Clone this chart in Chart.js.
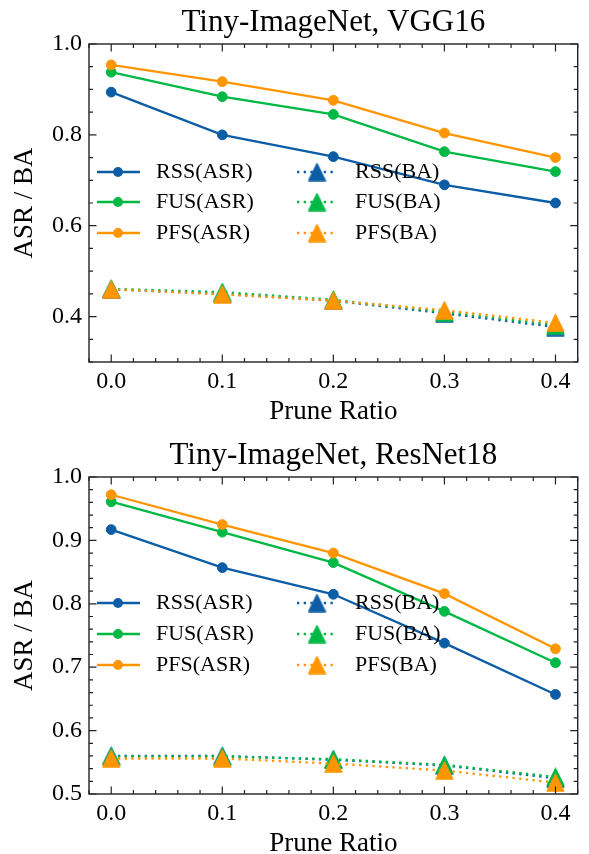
<!DOCTYPE html>
<html><head><meta charset="utf-8">
<script src="https://cdn.jsdelivr.net/npm/chart.js@4.4.1/dist/chart.umd.min.js"></script>
<style>
html,body{margin:0;padding:0;background:#fff;width:589px;height:854px;overflow:hidden}
canvas{display:block}
</style></head><body>
<canvas id="c1" width="589" height="427"></canvas>
<canvas id="c2" width="589" height="427"></canvas>
<script>
// ---------- data ----------
const pruneRatios = [0.0, 0.1, 0.2, 0.3, 0.4];
const xTickLabels = ['0.0', '0.1', '0.2', '0.3', '0.4'];
const seriesNames = ['RSS', 'FUS', 'PFS'];
const seriesColors = ['#0C5DA5', '#00B945', '#FF9500'];
const xAxisTitle = 'Prune Ratio';
const yAxisTitle = 'ASR / BA';

const vggTitle = 'Tiny-ImageNet, VGG16';
const vggYTicks = [0.4, 0.6, 0.8, 1.0];
const vggRssASR = [0.894, 0.800, 0.752, 0.690, 0.650];
const vggFusASR = [0.938, 0.884, 0.845, 0.763, 0.719];
const vggPfsASR = [0.954, 0.917, 0.876, 0.804, 0.750];
const vggRssBA  = [0.460, 0.450, 0.435, 0.407, 0.377];
const vggFusBA  = [0.461, 0.454, 0.437, 0.410, 0.381];
const vggPfsBA  = [0.460, 0.449, 0.435, 0.414, 0.386];

const resTitle = 'Tiny-ImageNet, ResNet18';
const resYTicks = [0.5, 0.6, 0.7, 0.8, 0.9, 1.0];
const resRssASR = [0.917, 0.857, 0.815, 0.738, 0.657];
const resFusASR = [0.961, 0.913, 0.865, 0.788, 0.707];
const resPfsASR = [0.972, 0.925, 0.880, 0.816, 0.729];
const resRssBA  = [0.560, 0.560, 0.554, 0.545, 0.525];
const resFusBA  = [0.559, 0.559, 0.555, 0.546, 0.527];
const resPfsBA  = [0.556, 0.556, 0.548, 0.537, 0.518];

// ---------- helpers ----------
const FONT = '"Liberation Serif", "Times New Roman", serif';

function makeTriangle(color) {
  const c = document.createElement('canvas');
  c.width = 19; c.height = 19;
  const g = c.getContext('2d');
  g.fillStyle = color; g.strokeStyle = color; g.lineWidth = 1;
  g.beginPath();
  g.moveTo(9.5, 0.7); g.lineTo(0.8, 18.2); g.lineTo(18.2, 18.2); g.closePath();
  g.fill(); g.stroke();
  return c;
}
const triangles = seriesColors.map(makeTriangle);

function buildDatasets(asr, ba) {
  const ds = [];
  asr.forEach((vals, i) => ds.push({
    label: seriesNames[i] + '(ASR)', kind: 'asr', series: i,
    data: pruneRatios.map((x, j) => ({x: x, y: vals[j]})),
    borderColor: seriesColors[i], backgroundColor: seriesColors[i],
    borderWidth: 2.3, pointRadius: 4.9, pointHoverRadius: 4.9, pointBorderWidth: 1,
    pointStyle: 'circle', tension: 0
  }));
  ba.forEach((vals, i) => ds.push({
    label: seriesNames[i] + '(BA)', kind: 'ba', series: i,
    data: pruneRatios.map((x, j) => ({x: x, y: vals[j]})),
    borderColor: seriesColors[i], backgroundColor: seriesColors[i],
    borderWidth: 2.3, borderDash: [2.3, 4.4], pointRadius: 9, pointHoverRadius: 9,
    pointStyle: triangles[i], tension: 0
  }));
  ds.forEach((d, k) => { d.order = ds.length - k; });
  return ds;
}

function isMajor(list, v) { return list.some(m => Math.abs(m - v) < 1e-9); }

const decor = {
  id: 'decor',
  afterDatasetsDraw(chart, args, o) {
    const ctx = chart.ctx, a = chart.chartArea, xs = chart.scales.x, ys = chart.scales.y;
    ctx.save();
    ctx.strokeStyle = '#222';
    ctx.lineWidth = 1.2;
    ctx.beginPath();
    const dx = (v, len) => {
      const p = xs.getPixelForValue(v);
      ctx.moveTo(p, a.bottom); ctx.lineTo(p, a.bottom - len);
      ctx.moveTo(p, a.top); ctx.lineTo(p, a.top + len);
    };
    const dy = (v, len) => {
      const p = ys.getPixelForValue(v);
      ctx.moveTo(a.left, p); ctx.lineTo(a.left + len, p);
      ctx.moveTo(a.right, p); ctx.lineTo(a.right - len, p);
    };
    pruneRatios.forEach(v => dx(v, 7.5));
    for (let k = Math.ceil(xs.min / o.xMinor - 1e-6); k * o.xMinor <= xs.max + 1e-9; k++) {
      const v = k * o.xMinor;
      if (!isMajor(pruneRatios, v)) dx(v, 4);
    }
    o.yTicks.forEach(v => dy(v, 7.5));
    for (let k = Math.ceil(ys.min / o.yMinor - 1e-6); k * o.yMinor <= ys.max + 1e-9; k++) {
      const v = k * o.yMinor;
      if (!isMajor(o.yTicks, v)) dy(v, 4);
    }
    ctx.stroke();
    ctx.lineWidth = 1.4;
    ctx.strokeRect(a.left, a.top, a.right - a.left, a.bottom - a.top);

    ctx.fillStyle = '#000';
    ctx.textAlign = 'center';
    ctx.textBaseline = 'alphabetic';
    const cx = (a.left + a.right) / 2;
    ctx.font = '31px ' + FONT;
    ctx.fillText(o.title, cx, a.top - 13);
    ctx.font = '27px ' + FONT;
    ctx.fillText(xAxisTitle, cx, a.bottom + 57);
    ctx.translate(25, (a.top + a.bottom) / 2);
    ctx.rotate(-Math.PI / 2);
    ctx.textBaseline = 'middle';
    ctx.fillText(yAxisTitle, 0, 0);
    ctx.restore();
  },
  afterDraw(chart, args, o) {
    const ctx = chart.ctx, a = chart.chartArea;
    ctx.save();
    chart.data.datasets.forEach(d => {
      const col = d.kind === 'asr' ? 0 : 1;
      const yy = a.top + o.legendRows[d.series];
      const h1 = a.left + (col ? 208 : 8), h2 = a.left + (col ? 248 : 51);
      const mx = a.left + (col ? 228 : 29), tx = a.left + (col ? 266 : 67);
      ctx.strokeStyle = d.borderColor;
      ctx.lineWidth = 2.3;
      ctx.setLineDash(d.borderDash || []);
      ctx.beginPath(); ctx.moveTo(h1, yy); ctx.lineTo(h2, yy); ctx.stroke();
      ctx.setLineDash([]);
      if (d.kind === 'asr') {
        ctx.fillStyle = d.backgroundColor;
        ctx.beginPath(); ctx.arc(mx, yy, 4.9, 0, Math.PI * 2); ctx.fill();
      } else {
        const t = d.pointStyle;
        ctx.drawImage(t, mx - t.width / 2, yy - t.height / 2, t.width, t.height);
      }
      ctx.fillStyle = '#000';
      ctx.font = '22px ' + FONT;
      ctx.textAlign = 'left';
      ctx.textBaseline = 'middle';
      ctx.fillText(d.label, tx, yy);
    });
    ctx.restore();
  }
};

function makeChart(id, title, asr, ba, yMin, yMax, yTicks, yMinor, padTop, xHeight, legendRows) {
  return new Chart(document.getElementById(id), {
    type: 'line',
    data: { datasets: buildDatasets(asr, ba) },
    plugins: [decor],
    options: {
      responsive: false,
      animation: false,
      events: [],
      layout: { padding: { left: 0, right: 3, top: padTop, bottom: 0 } },
      plugins: {
        legend: { display: false },
        tooltip: { enabled: false },
        title: { display: false },
        decor: { title: title, yTicks: yTicks, yMinor: yMinor, xMinor: 0.02, legendRows: legendRows }
      },
      scales: {
        x: {
          type: 'linear', min: -0.02, max: 0.42,
          afterBuildTicks: s => { s.ticks = pruneRatios.map(v => ({value: v})); },
          afterFit: s => { s.height = xHeight; },
          grid: { display: false, drawTicks: false },
          border: { display: false },
          ticks: {
            callback: (v, i) => xTickLabels[i],
            autoSkip: false, maxRotation: 0, padding: 5, color: '#000',
            font: { family: FONT, size: 24 }
          }
        },
        y: {
          type: 'linear', min: yMin, max: yMax,
          afterBuildTicks: s => { s.ticks = yTicks.map(v => ({value: v})); },
          afterFit: s => { s.width = 89; },
          grid: { display: false, drawTicks: false },
          border: { display: false },
          ticks: {
            callback: v => Number(v).toFixed(1),
            autoSkip: false, padding: 7, color: '#000',
            font: { family: FONT, size: 24 }
          }
        }
      }
    }
  });
}

makeChart('c1', vggTitle,
  [vggRssASR, vggFusASR, vggPfsASR], [vggRssBA, vggFusBA, vggPfsBA],
  0.3, 1.0, vggYTicks, 0.05, 44, 65, [128, 158, 189]);
makeChart('c2', resTitle,
  [resRssASR, resFusASR, resPfsASR], [resRssBA, resFusBA, resPfsBA],
  0.5, 1.0, resYTicks, 0.02, 50, 60, [126, 157, 188]);
</script>
</body></html>
